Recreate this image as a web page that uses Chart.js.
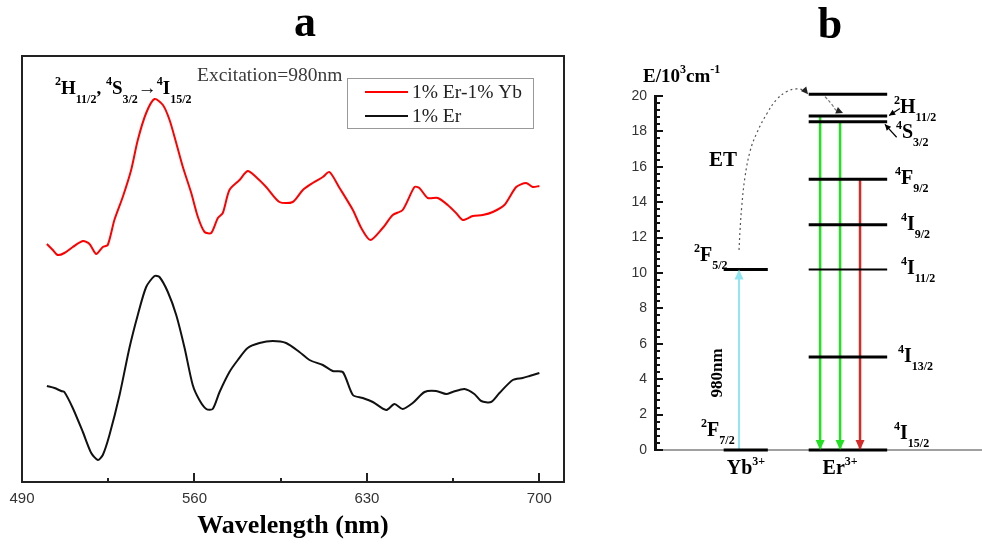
<!DOCTYPE html>
<html>
<head>
<meta charset="utf-8">
<script src="https://cdn.jsdelivr.net/npm/chart.js@4.4.1/dist/chart.umd.min.js"></script>
<style>
  body { margin: 0; background: #fff; }
  #wrap { position: relative; width: 982px; height: 548px; }
  #spectra { position: absolute; left: 0; top: 0; }
  #levels { position: absolute; left: 600px; top: 0; }
</style>
</head>
<body>
<div id="wrap">
  <canvas id="spectra" width="600" height="548"></canvas>
  <canvas id="levels" width="382" height="548"></canvas>
</div>
<script>
// ---- panel a: upconversion emission spectra ----
const erYbWavelength = [500.1, 502.5, 504.5, 507.2, 510.6, 514.7, 517.4, 520.1, 522.8, 524.8, 527.5, 530.9, 534.3, 537.0, 540.4, 543.8, 547.2, 549.9, 552.6, 555.3, 558.7, 561.4, 564.1, 566.8, 569.5, 571.5, 574.2, 578.3, 581.6, 585.0, 589.1, 594.5, 599.9, 604.0, 608.0, 612.1, 614.8, 618.9, 624.3, 627.7, 631.4, 636.4, 640.5, 644.5, 649.3, 651.3, 654.7, 658.8, 662.8, 666.2, 668.9, 673.0, 677.0, 681.1, 685.8, 690.6, 694.6, 697.3, 700.0];
const erYbIntensity = [238, 232, 227, 229, 235, 241, 238, 228, 235, 237, 262, 285, 312, 342, 369, 383, 377, 362, 339, 315, 289, 265, 250, 249, 264, 269, 292, 302, 311, 305, 295, 280, 280, 292, 299, 305, 310, 294, 272, 254, 242, 254, 267, 272, 295, 294, 284, 284, 277, 269, 262, 266, 267, 270, 277, 295, 299, 295, 296];

const erWavelength = [500.1, 503.2, 505.9, 507.2, 510.6, 514.7, 518.1, 520.8, 522.8, 525.5, 529.6, 533.6, 537.0, 540.4, 543.8, 545.8, 549.2, 552.6, 556.0, 559.3, 562.0, 564.8, 567.4, 570.2, 574.2, 577.6, 581.6, 586.4, 591.8, 597.2, 602.6, 606.7, 612.1, 616.1, 620.2, 624.3, 628.3, 632.4, 637.8, 641.2, 644.5, 648.6, 653.4, 658.1, 662.2, 664.8, 669.6, 673.6, 676.4, 680.4, 683.8, 689.2, 693.2, 696.0, 700.0];
const erIntensity = [96, 94, 91, 90, 74, 50, 29, 22, 27, 47, 87, 134, 167, 195, 206, 205, 190, 167, 134, 97, 82, 73, 73, 90, 110, 122, 134, 139, 141, 139, 130, 122, 117, 111, 110, 87, 84, 80, 72, 78, 73, 79, 90, 91, 88, 90, 93, 88, 81, 80, 89, 102, 104, 106, 109];

const seriesLabels = ["1% Er-1% Yb", "1% Er"];
const wavelengthTicks = [490, 560, 630, 700];
const wavelengthMinorTicks = [525, 595, 665];

// ---- panel b: energy level scheme (E in 10^3 cm^-1) ----
const ions = ["Yb", "Er"];
const levelIon = ["Yb", "Yb", "Er", "Er", "Er", "Er", "Er", "Er", "Er", "Er"];
const levelSup = ["2", "2", "4", "4", "4", "4", "4", "4", "2", ""];
const levelLetter = ["F", "F", "I", "I", "I", "I", "F", "S", "H", ""];
const levelSub = ["7/2", "5/2", "15/2", "13/2", "11/2", "9/2", "9/2", "3/2", "11/2", ""];
const levelEnergy = [0, 10.2, 0, 5.25, 10.2, 12.73, 15.3, 18.55, 18.87, 20.1];

const pumpEnergy = [0, 10.2];
const emissionFrom = [18.87, 18.55, 15.3];
const emissionTo = [0, 0, 0];

const etCurveX = [25.7, 26.0, 26.5, 27.5, 29.1, 31.1, 34.2, 37.2, 40.3, 43.3, 45.9, 46.8];
const etCurveE = [11.3, 12.4, 13.7, 15.4, 16.9, 17.9, 19.0, 19.8, 20.25, 20.4, 20.3, 20.1];
const relaxCurveX = [52.0, 54.2, 55.4, 57.5];
const relaxCurveE = [19.96, 19.5, 19.2, 19.04];

const SERIF = "'Liberation Serif', 'Times New Roman', serif";
const SANS = "'Liberation Sans', Arial, Helvetica, sans-serif";

// text with superscript / subscript pieces: parts = [[text, "n" | "sup" | "sub"], ...]
function richWidth(ctx, parts, size, weight) {
  let w = 0;
  parts.forEach(([t, kind]) => {
    const s = kind === "n" ? size : Math.round(size * 0.62);
    ctx.font = `${weight} ${s}px ${SERIF}`;
    w += ctx.measureText(t).width;
  });
  return w;
}

function drawRich(ctx, x, y, parts, size, subDrop = 0.38) {
  let cx = x;
  ctx.save();
  ctx.fillStyle = "#000";
  ctx.textAlign = "left";
  ctx.textBaseline = "alphabetic";
  parts.forEach(([t, kind]) => {
    const s = kind === "n" ? size : Math.round(size * 0.62);
    const dy = kind === "sup" ? -size * 0.45 : kind === "sub" ? size * subDrop : 0;
    ctx.font = `bold ${s}px ${SERIF}`;
    ctx.fillText(t, cx, y + dy);
    cx += ctx.measureText(t).width;
  });
  ctx.restore();
}

function arrowHead(ctx, x0, y0, x1, y1, len, half, color) {
  const a = Math.atan2(y1 - y0, x1 - x0);
  ctx.save();
  ctx.translate(x1, y1);
  ctx.rotate(a);
  ctx.beginPath();
  ctx.moveTo(0, 0);
  ctx.lineTo(-len, -half);
  ctx.lineTo(-len, half);
  ctx.closePath();
  ctx.fillStyle = color;
  ctx.fill();
  ctx.restore();
}

const toPoints = (xs, ys) => xs.map((v, i) => ({ x: v, y: ys[i] }));

// frame, inward ticks, legend and annotations for the spectra
const spectraDecor = {
  id: "spectraDecor",
  afterDraw(chart) {
    const { ctx, chartArea: ca, scales: { x } } = chart;
    ctx.save();
    ctx.strokeStyle = "#222";
    ctx.lineWidth = 2;
    ctx.strokeRect(ca.left, ca.top, ca.right - ca.left, ca.bottom - ca.top);

    ctx.beginPath();
    wavelengthTicks.slice(1).forEach((v) => {
      const px = Math.round(x.getPixelForValue(v));
      ctx.moveTo(px, ca.bottom);
      ctx.lineTo(px, ca.bottom - 9);
    });
    wavelengthMinorTicks.forEach((v) => {
      const px = Math.round(x.getPixelForValue(v));
      ctx.moveTo(px, ca.bottom);
      ctx.lineTo(px, ca.bottom - 4);
    });
    ctx.stroke();

    // legend
    ctx.strokeStyle = "#999";
    ctx.lineWidth = 1;
    ctx.strokeRect(347.5, 78.5, 186, 50);
    chart.data.datasets.forEach((ds, i) => {
      const ly = 92 + i * 24;
      ctx.strokeStyle = ds.borderColor;
      ctx.lineWidth = 2;
      ctx.beginPath();
      ctx.moveTo(365, ly);
      ctx.lineTo(408, ly);
      ctx.stroke();
      ctx.fillStyle = "#222";
      ctx.font = `19.5px ${SERIF}`;
      ctx.textBaseline = "middle";
      ctx.fillText(ds.label, 412, ly + 1);
    });

    ctx.textBaseline = "alphabetic";
    ctx.fillStyle = "#3a3a3a";
    ctx.font = `19.5px ${SERIF}`;
    ctx.fillText("Excitation=980nm", 197, 81);

    drawRich(ctx, 55, 94, [
      ["2", "sup"], ["H", "n"], ["11/2", "sub"], [", ", "n"],
      ["4", "sup"], ["S", "n"], ["3/2", "sub"], ["\u2192", "n"],
      ["4", "sup"], ["I", "n"], ["15/2", "sub"]
    ], 19, 0.48);

    ctx.fillStyle = "#000";
    ctx.font = `bold 44px ${SERIF}`;
    ctx.textAlign = "center";
    ctx.fillText("a", 305, 36);
    ctx.restore();
  }
};

new Chart(document.getElementById("spectra"), {
  type: "line",
  data: {
    datasets: [
      {
        label: seriesLabels[0],
        data: toPoints(erYbWavelength, erYbIntensity),
        borderColor: "#ff0000",
        borderWidth: 2,
        pointRadius: 0,
        tension: 0.25,
      },
      {
        label: seriesLabels[1],
        data: toPoints(erWavelength, erIntensity),
        borderColor: "#111111",
        borderWidth: 2,
        pointRadius: 0,
        tension: 0.25,
      },
    ],
  },
  options: {
    responsive: false,
    animation: false,
    events: [],
    layout: { padding: { left: 22, right: 36, top: 56, bottom: 0 } },
    plugins: { legend: { display: false }, tooltip: { enabled: false } },
    scales: {
      x: {
        type: "linear",
        min: 490,
        max: 710,
        afterBuildTicks: (s) => { s.ticks = wavelengthTicks.map((v) => ({ value: v })); },
        afterFit: (s) => { s.height = 66; },
        grid: { display: false, drawTicks: false },
        border: { display: false },
        ticks: { padding: 8, color: "#333", font: { family: SANS, size: 15 } },
        title: {
          display: true,
          text: "Wavelength (nm)",
          color: "#000",
          font: { family: SERIF, size: 26, weight: "bold" },
          padding: { top: 0, bottom: 6 },
        },
      },
      y: { display: false, min: 0, max: 426 },
    },
  },
  plugins: [spectraDecor],
});

// ---- energy level diagram ----
const ionColumn = { Yb: [21, 34.5], Er: [47, 71] };
const pumpX = 25.7;
const emissionX = [50.5, 56.6, 62.7];
const emissionColors = ["#22e022", "#22e022", "#d42a2a"];
const levelLabelAt = [[14.1, 0.79], [11.9, 10.68], [73.1, 0.62], [74.3, 4.97], [75.2, 9.94], [75.2, 12.43], [73.4, 15.03], [73.7, 17.63], [73.1, 19.04], null];

const levelSets = levelEnergy.map((e, i) => ({
  data: toPoints(ionColumn[levelIon[i]], [e, e]),
  borderColor: "#000",
  borderWidth: levelLetter[i] === "I" && levelSub[i] === "11/2" ? 2 : 3,
}));

const emissionSets = emissionFrom.map((e, i) => ({
  data: toPoints([emissionX[i], emissionX[i]], [e, emissionTo[i]]),
  borderColor: emissionColors[i],
  borderWidth: 2.5,
  arrow: [10, 4.5],
}));

const pumpSet = {
  data: toPoints([pumpX, pumpX], pumpEnergy),
  borderColor: "#8fe6f2",
  borderWidth: 2,
  arrow: [10, 4.5],
};

const etSet = {
  data: toPoints(etCurveX, etCurveE),
  borderColor: "#555",
  borderWidth: 1.2,
  borderDash: [2, 3],
  tension: 0.4,
  arrow: [7, 3.5],
  arrowColor: "#222",
};

const relaxSet = {
  data: toPoints(relaxCurveX, relaxCurveE),
  borderColor: "#777",
  borderWidth: 1.2,
  borderDash: [3, 2],
  tension: 0.4,
  arrow: [7, 3.5],
  arrowColor: "#222",
};

// short pointers from the 2H11/2 and 4S3/2 labels to their levels
const pointerSets = [
  { data: toPoints([74.9, 71.6], [19.3, 18.9]), borderColor: "#000", borderWidth: 1.2, arrow: [6, 3] },
  { data: toPoints([73.9, 70.3], [17.67, 18.4]), borderColor: "#000", borderWidth: 1.2, arrow: [6, 3] },
];

const levelDecor = {
  id: "levelDecor",
  afterDatasetsDraw(chart) {
    const { ctx, chartArea: ca, scales: { x, y } } = chart;
    chart.data.datasets.forEach((ds, i) => {
      if (!ds.arrow) return;
      const pts = chart.getDatasetMeta(i).data;
      const a = pts[pts.length - 2];
      const b = pts[pts.length - 1];
      arrowHead(ctx, a.x, a.y, b.x, b.y, ds.arrow[0], ds.arrow[1], ds.arrowColor || ds.borderColor);
    });

    // inward ticks on the energy axis
    ctx.save();
    ctx.strokeStyle = "#111";
    ctx.lineWidth = 2;
    ctx.beginPath();
    for (let i = 0; i <= 50; i++) {
      const py = Math.round(y.getPixelForValue(i * 0.4));
      ctx.moveTo(ca.left, py);
      ctx.lineTo(ca.left + (i % 5 === 0 ? 8 : 5), py);
    }
    ctx.stroke();
    ctx.restore();

    levelEnergy.forEach((e, i) => {
      const at = levelLabelAt[i];
      if (!at || !levelLetter[i]) return;
      drawRich(ctx, x.getPixelForValue(at[0]), y.getPixelForValue(at[1]),
        [[levelSup[i], "sup"], [levelLetter[i], "n"], [levelSub[i], "sub"]], 20);
    });

    ions.forEach((ion, k) => {
      const parts = [[ion, "n"], ["3+", "sup"]];
      const w = richWidth(ctx, parts, 20, "bold");
      const cx = x.getPixelForValue(k === 0 ? 27.8 : 56.6);
      drawRich(ctx, cx - w / 2, y.getPixelForValue(-1.36), parts, 20);
    });

    drawRich(ctx, 43, 82, [["E/10", "n"], ["3", "sup"], ["cm", "n"], ["-1", "sup"]], 19);

    ctx.save();
    ctx.fillStyle = "#000";
    ctx.font = `bold 21px ${SERIF}`;
    ctx.textAlign = "center";
    ctx.fillText("ET", x.getPixelForValue(20.8), y.getPixelForValue(16.05));

    ctx.translate(x.getPixelForValue(19.0), y.getPixelForValue(4.35));
    ctx.rotate(-Math.PI / 2);
    ctx.font = `bold 17px ${SERIF}`;
    ctx.textBaseline = "middle";
    ctx.fillText("980nm", 0, 0);
    ctx.restore();

    ctx.save();
    ctx.fillStyle = "#000";
    ctx.font = `bold 44px ${SERIF}`;
    ctx.textAlign = "center";
    ctx.fillText("b", 230, 38);
    ctx.restore();
  },
};

new Chart(document.getElementById("levels"), {
  type: "line",
  data: {
    datasets: [...levelSets, ...pointerSets, ...emissionSets, pumpSet, etSet, relaxSet].map((ds) => ({
      pointRadius: 0,
      fill: false,
      ...ds,
    })),
  },
  options: {
    responsive: false,
    animation: false,
    events: [],
    clip: false,
    layout: { padding: { left: 0, right: 0, top: 96, bottom: 0 } },
    plugins: { legend: { display: false }, tooltip: { enabled: false } },
    scales: {
      x: {
        type: "linear",
        min: 0,
        max: 100,
        afterFit: (s) => { s.height = 98; },
        grid: { display: false, drawTicks: false },
        ticks: { display: false },
        border: { display: true, color: "#a0a0a0", width: 2 },
      },
      y: {
        min: 0,
        max: 20,
        afterFit: (s) => { s.width = 55; },
        grid: { display: false, drawTicks: false },
        border: { display: true, color: "#111", width: 3 },
        ticks: { stepSize: 2, padding: 8, color: "#333", font: { family: SANS, size: 14 } },
      },
    },
  },
  plugins: [levelDecor],
});
</script>
</body>
</html>
